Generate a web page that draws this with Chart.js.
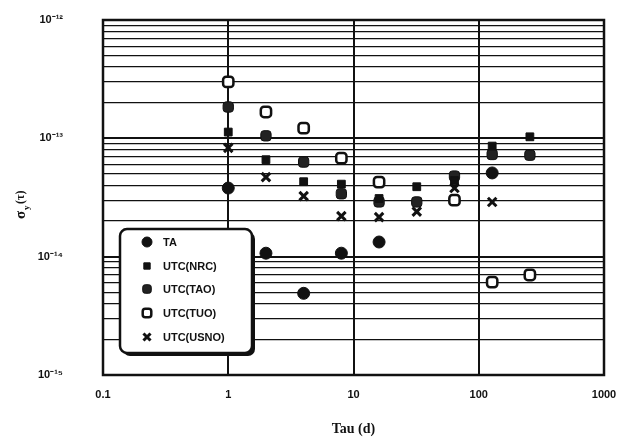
<!DOCTYPE html>
<html>
<head>
<meta charset="utf-8">
<script src="https://cdn.jsdelivr.net/npm/chart.js@4.4.0/dist/chart.umd.min.js"></script>
<style>
  html, body { margin: 0; padding: 0; background: #fff; }
</style>
</head>
<body>
<canvas id="stabChart" width="619" height="442"></canvas>
<script>
// ── Data ─────────────────────────────────────────────────────
const TAU   = [1, 2, 4, 8, 16, 32, 64, 128, 256];
const TA    = [3.8e-14, 1.07e-14, 4.9e-15, 1.07e-14, 1.33e-14, null, null, 5.1e-14, null];
const NRC   = [1.13e-13, 6.6e-14, 4.3e-14, 4.1e-14, 3.1e-14, 3.9e-14, 4.4e-14, 8.6e-14, 1.03e-13];
const TAO   = [1.84e-13, 1.05e-13, 6.3e-14, 3.4e-14, 2.9e-14, 2.9e-14, 4.8e-14, 7.3e-14, 7.2e-14];
const TUO   = [3.0e-13, 1.67e-13, 1.22e-13, 6.8e-14, 4.27e-14, null, 3.0e-14, 6.1e-15, 7.0e-15];
const USNO  = [8.3e-14, 4.7e-14, 3.25e-14, 2.2e-14, 2.16e-14, 2.4e-14, 3.8e-14, 2.9e-14, null];

const SERIES_NAMES = ["TA", "UTC(NRC)", "UTC(TAO)", "UTC(TUO)", "UTC(USNO)"];
const X_TICKS      = [0.1, 1, 10, 100, 1000];
const Y_EXPONENTS  = [-15, -14, -13];
const Y_MAX        = 1e-12;

const SUP = { "-": "⁻", "0": "⁰", "1": "¹", "2": "²", "3": "³", "4": "⁴", "5": "⁵", "6": "⁶", "7": "⁷", "8": "⁸", "9": "⁹" };

// minor ticks 1..9 per decade, plus the top one
const Y_TICKS = [];
Y_EXPONENTS.forEach(e => {
  for (let m = 1; m <= 9; m++) Y_TICKS.push(Number((m * Math.pow(10, e)).toPrecision(3)));
});
Y_TICKS.push(Y_MAX);

function isDecade(v) {
  const l = Math.log10(v);
  return Math.abs(l - Math.round(l)) < 1e-6;
}

function pts(arr) {
  return TAU.map((t, i) => ({ x: t, y: arr[i] })).filter(p => p.y !== null);
}

const INK = "#111";

// ── Legend box drawn inside the plot ─────────────────────────
const boxLegend = {
  id: "boxLegend",
  afterDatasetsDraw(chart) {
    const ctx = chart.ctx;
    const x0 = 120, y0 = 229, w = 132, h = 124, r = 7;
    ctx.save();
    ctx.fillStyle = INK;
    roundRect(ctx, x0 + 3, y0 + 3, w, h, r);
    ctx.fill();
    ctx.fillStyle = "#fff";
    ctx.strokeStyle = INK;
    ctx.lineWidth = 2.5;
    roundRect(ctx, x0, y0, w, h, r);
    ctx.fill();
    ctx.stroke();

    const rows = [242, 266, 289, 313, 337];
    chart.data.datasets.forEach((ds, i) => {
      ctx.fillStyle = ds.backgroundColor;
      ctx.strokeStyle = ds.borderColor;
      ctx.lineWidth = ds.borderWidth;
      Chart.helpers.drawPoint(ctx, {
        pointStyle: ds.pointStyle, radius: ds.pointRadius - 1,
        borderWidth: ds.borderWidth, rotation: 0
      }, 147, rows[i]);
      ctx.fillStyle = INK;
      ctx.font = "bold 11px 'Liberation Sans', Arial, sans-serif";
      ctx.textBaseline = "middle";
      ctx.textAlign = "left";
      ctx.fillText(ds.label, 163, rows[i] + 1);
    });
    ctx.restore();
  }
};

function roundRect(ctx, x, y, w, h, r) {
  ctx.beginPath();
  ctx.moveTo(x + r, y);
  ctx.arcTo(x + w, y, x + w, y + h, r);
  ctx.arcTo(x + w, y + h, x, y + h, r);
  ctx.arcTo(x, y + h, x, y, r);
  ctx.arcTo(x, y, x + w, y, r);
  ctx.closePath();
}

// ── Frame + y-axis title ─────────────────────────────────────
const frameAndTitle = {
  id: "frameAndTitle",
  beforeDatasetsDraw(chart) {
    const { ctx, chartArea: a } = chart;
    ctx.save();
    ctx.strokeStyle = INK;
    ctx.lineWidth = 2.5;
    ctx.strokeRect(a.left, a.top, a.right - a.left, a.bottom - a.top);
    ctx.restore();
  },
  afterDraw(chart) {
    const ctx = chart.ctx;
    ctx.save();
    ctx.translate(20, 203);
    ctx.rotate(-Math.PI / 2);
    ctx.fillStyle = INK;
    ctx.textBaseline = "alphabetic";
    ctx.textAlign = "left";
    ctx.font = "bold 15px 'Liberation Serif', serif";
    ctx.fillText("σ", -16, 5);
    ctx.font = "bold 9px 'Liberation Serif', serif";
    ctx.fillText("y", -7, 9);
    ctx.font = "bold 12px 'Liberation Serif', serif";
    ctx.fillText("(τ)", -1, 4);
    ctx.restore();
  }
};

// ── Chart ────────────────────────────────────────────────────
new Chart(document.getElementById("stabChart"), {
  type: "scatter",
  data: {
    datasets: [
      { label: SERIES_NAMES[0], data: pts(TA),   pointStyle: "circle",      pointRadius: 6,   backgroundColor: INK,    borderColor: INK, borderWidth: 1 },
      { label: SERIES_NAMES[1], data: pts(NRC),  pointStyle: "rect",        pointRadius: 5.5, backgroundColor: INK,    borderColor: INK, borderWidth: 1 },
      { label: SERIES_NAMES[2], data: pts(TAO),  pointStyle: "rectRounded", pointRadius: 6,   backgroundColor: "#222", borderColor: INK, borderWidth: 1 },
      { label: SERIES_NAMES[3], data: pts(TUO),  pointStyle: "rectRounded", pointRadius: 6,   backgroundColor: "#fff", borderColor: INK, borderWidth: 2.5 },
      { label: SERIES_NAMES[4], data: pts(USNO), pointStyle: "crossRot",    pointRadius: 6,   backgroundColor: INK,    borderColor: INK, borderWidth: 3 }
    ]
  },
  options: {
    responsive: false,
    animation: false,
    layout: { padding: { top: 20, right: 15, left: 0, bottom: 0 } },
    plugins: {
      legend: { display: false },
      tooltip: { enabled: false }
    },
    scales: {
      x: {
        type: "logarithmic",
        min: 0.1, max: 1000,
        afterBuildTicks: s => { s.ticks = X_TICKS.map(v => ({ value: v, major: true })); },
        afterFit: s => { s.height = 67; s.paddingLeft = 0; s.paddingRight = 0; },
        ticks: {
          autoSkip: false, maxRotation: 0, padding: 13, color: INK,
          font: { family: "'Liberation Sans', Arial, sans-serif", size: 11, weight: "bold" },
          callback: v => String(v)
        },
        grid: { color: INK, lineWidth: 2, drawTicks: false },
        border: { display: false },
        title: {
          display: true, text: "Tau (d)", color: INK,
          padding: { top: 0, bottom: 4 },
          font: { family: "'Liberation Serif', serif", size: 14, weight: "bold" }
        }
      },
      y: {
        type: "logarithmic",
        min: 1e-15, max: Y_MAX,
        afterBuildTicks: s => { s.ticks = Y_TICKS.map(v => ({ value: v, major: isDecade(v) })); },
        afterFit: s => { s.width = 103; s.paddingTop = 0; s.paddingBottom = 0; },
        ticks: {
          autoSkip: false, padding: 40, color: INK,
          font: { family: "'Liberation Sans', Arial, sans-serif", size: 11, weight: "bold" },
          callback: v => {
            if (!isDecade(v)) return "";
            const e = String(Math.round(Math.log10(v)));
            return "10" + e.split("").map(c => SUP[c]).join("");
          }
        },
        grid: {
          drawTicks: false,
          color: INK,
          lineWidth: c => (c.tick && isDecade(c.tick.value)) ? 2 : 1.3
        },
        border: { display: false }
      }
    }
  },
  plugins: [frameAndTitle, boxLegend]
});
</script>
</body>
</html>
